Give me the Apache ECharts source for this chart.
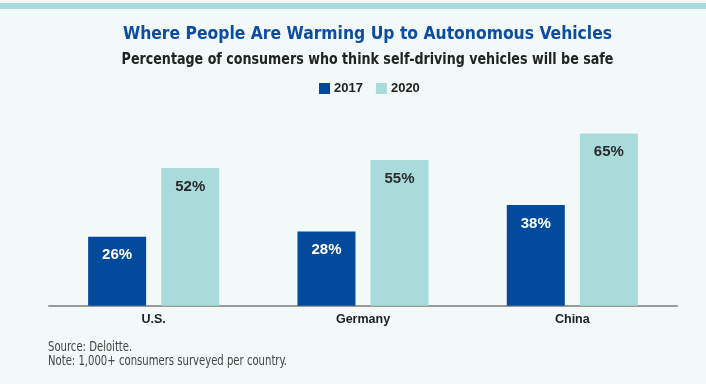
<!DOCTYPE html>
<html>
<head>
<meta charset="utf-8">
<script src="https://cdn.jsdelivr.net/npm/echarts@6/dist/echarts.min.js"></script>
<style>
html,body{margin:0;padding:0;background:#f3f8f9;}
#chart{width:706px;height:384px;}
</style>
</head>
<body>
<div id="chart"></div>
<script>
const categories = ['U.S.', 'Germany', 'China'];
const values2017 = [26, 28, 38];
const values2020 = [52, 55, 65];
const seriesNames = ['2017', '2020'];
const titleText = 'Where People Are Warming Up to Autonomous Vehicles';
const subtitleText = 'Percentage of consumers who think self-driving vehicles will be safe';
const noteText = 'Source: Deloitte.\nNote: 1,000+ consumers surveyed per country.';

const COND = '"DejaVu Sans Condensed", "Liberation Sans Narrow", sans-serif';
const SANS = '"Liberation Sans", Arial, sans-serif';
const chart = echarts.init(document.getElementById('chart'), null, {renderer: 'canvas'});
chart.setOption({
  backgroundColor: '#f3f8f9',
  animation: false,
  graphic: [
    {type: 'rect', left: 0, top: 3, shape: {width: 706, height: 6}, style: {fill: '#a9dbdb'}, silent: true},
    {type: 'text', x: 367.5, y: 34, scaleX: 0.963,
     style: {text: titleText, font: 'bold 18px ' + COND, fill: '#0b4da2', textAlign: 'center', textVerticalAlign: 'middle'}},
    {type: 'text', x: 367.5, y: 60, scaleX: 0.94,
     style: {text: subtitleText, font: 'bold 15px ' + COND, fill: '#222', textAlign: 'center', textVerticalAlign: 'middle'}},
    {type: 'text', x: 48, y: 340, scaleX: 0.8,
     style: {text: noteText, font: '14px ' + COND, fill: '#444', lineHeight: 14}}
  ],
  legend: {
    top: 82, left: 319, padding: 0, itemWidth: 11, itemHeight: 11, itemGap: 13, icon: 'rect',
    textStyle: {fontFamily: SANS, fontSize: 13, fontWeight: 'bold', color: '#222', padding: [0, 0, 0, -1]},
    data: seriesNames
  },
  grid: {left: 49, right: 29, top: 120.2, bottom: 78.3},
  xAxis: {
    type: 'category', data: categories,
    axisLine: {lineStyle: {color: '#999', width: 2}},
    axisTick: {show: false},
    axisLabel: {fontFamily: SANS, fontSize: 12.5, fontWeight: 'bold', color: '#222', margin: 7}
  },
  yAxis: {type: 'value', min: 0, max: 70, show: false, splitLine: {show: false}},
  series: [
    {name: seriesNames[0], type: 'bar', data: values2017, barWidth: 58, barGap: '26%',
     itemStyle: {color: '#044a9c'},
     label: {show: true, position: 'insideTop', distance: 11, formatter: '{c}%', fontFamily: SANS, fontSize: 15, fontWeight: 'bold', color: '#fff'}},
    {name: seriesNames[1], type: 'bar', data: values2020, barWidth: 58,
     itemStyle: {color: '#a9dbdb'},
     label: {show: true, position: 'insideTop', distance: 11, formatter: '{c}%', fontFamily: SANS, fontSize: 15, fontWeight: 'bold', color: '#2a2a2a'}}
  ]
});
</script>
</body>
</html>
